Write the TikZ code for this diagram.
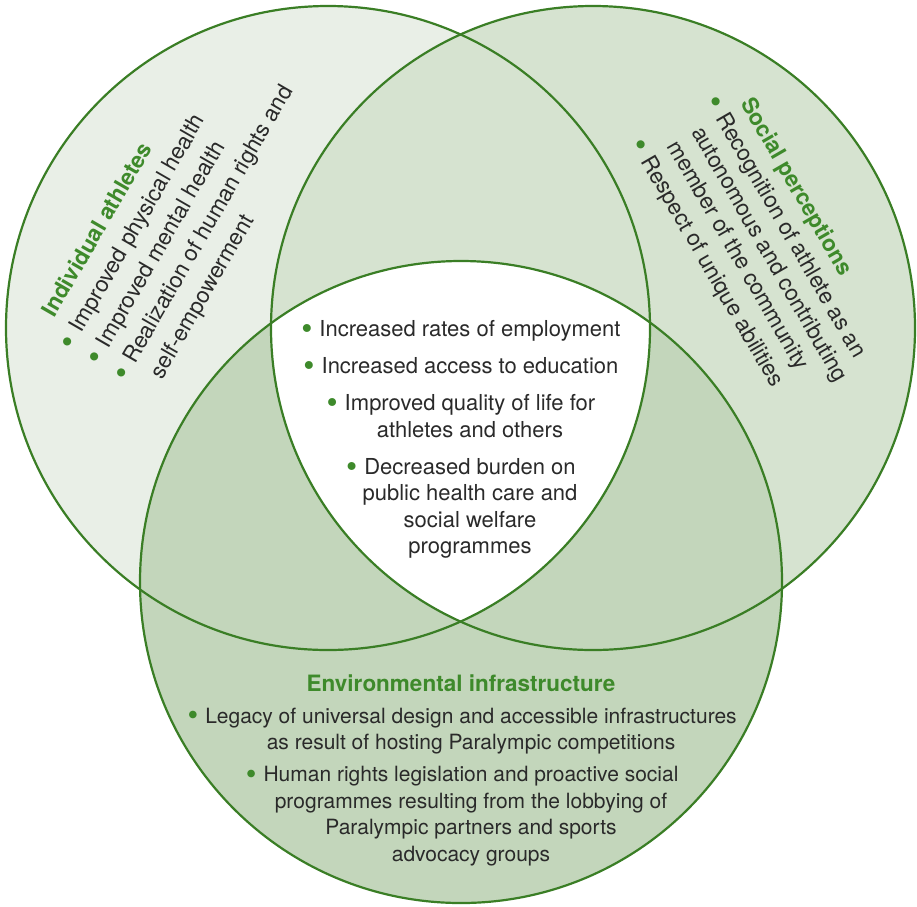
\documentclass[tikz,border=0pt]{standalone}
\usepackage{fontspec}
\setmainfont{TeX Gyre Heros}

\definecolor{athleteFill}{HTML}{E9EFE7}
\definecolor{socialFill}{HTML}{D6E3D0}
\definecolor{envFill}{HTML}{C3D6BB}
\definecolor{ringGreen}{HTML}{3A7E25}
\definecolor{headGreen}{HTML}{3E8A2B}
\definecolor{bodyText}{HTML}{2A2A2A}

\newcommand{\gdot}[1][7pt]{\llap{\textcolor{headGreen}{\raisebox{-0.13em}{\scalebox{1.45}{\textbullet}}}\hspace{#1}}}

\begin{document}
\begin{tikzpicture}[x=1pt,y=-1pt,
    ring/.style={draw=ringGreen,line width=2.2pt},
    body/.style={text=bodyText,inner sep=0pt}]

  \useasboundingbox (0,0) rectangle (917,906);

  \coordinate (ca) at (328,328);
  \coordinate (cs) at (593,328);
  \coordinate (ce) at (461,582);

  % circles, then the common part in white
  \fill[athleteFill] (ca) circle[radius=322];
  \fill[socialFill] (cs) circle[radius=322];
  \fill[envFill] (ce) circle[radius=321];
  \begin{scope}
    \clip (ca) circle[radius=322];
    \clip (cs) circle[radius=322];
    \fill[white] (ce) circle[radius=321];
  \end{scope}
  \draw[ring] (ca) circle[radius=322];
  \draw[ring] (cs) circle[radius=322];
  \draw[ring] (ce) circle[radius=321];

  \node[body,rotate=60,anchor=north west,align=left,
        font=\fontsize{22.5}{31}\selectfont] (athletes) at (40,310)
       {{\color{headGreen}\bfseries Individual athletes}\\
        \gdot[8pt]Improved physical health\\
        \gdot[8pt]Improved mental health\\
        \gdot[8pt]Realization of human rights and\\
        self-empowerment};

  \node[body,rotate=-60,anchor=north west,align=left,
        font=\fontsize{22.5}{28}\selectfont] (social) at (755,95)
       {{\color{headGreen}\bfseries Social perceptions}\\[1pt]
        \gdot[8pt]Recognition of athlete as an\\
        autonomous and contributing\\
        member of the community\\[2pt]
        \gdot[8pt]Respect of unique abilities};

  \node[body,align=center,anchor=north,
        font=\fontsize{22}{26.3}\selectfont] (shared) at (470,320)
       {\gdot Increased rates of employment\\[11pt]
        \gdot Increased access to education\\[11pt]
        \gdot Improved quality of life for\\
        athletes and others\\[11pt]
        \gdot Decreased burden on\\
        public health care and\\
        social welfare\\
        programmes};

  \node[inner sep=0pt,anchor=base,text=headGreen,
        font=\bfseries\fontsize{22.5}{27}\selectfont] (envhead) at (461,691)
       {Environmental infrastructure};

  \node[body,align=center,anchor=north,
        font=\fontsize{21}{26.5}\selectfont] (envlist) at (471,707.5)
       {\gdot Legacy of universal design and accessible infrastructures\\
        as result of hosting Paralympic competitions\\[5.5pt]
        \gdot Human rights legislation and proactive social\\
        programmes resulting from the lobbying of\\
        Paralympic partners and sports\\
        advocacy groups};

\end{tikzpicture}
\end{document}
